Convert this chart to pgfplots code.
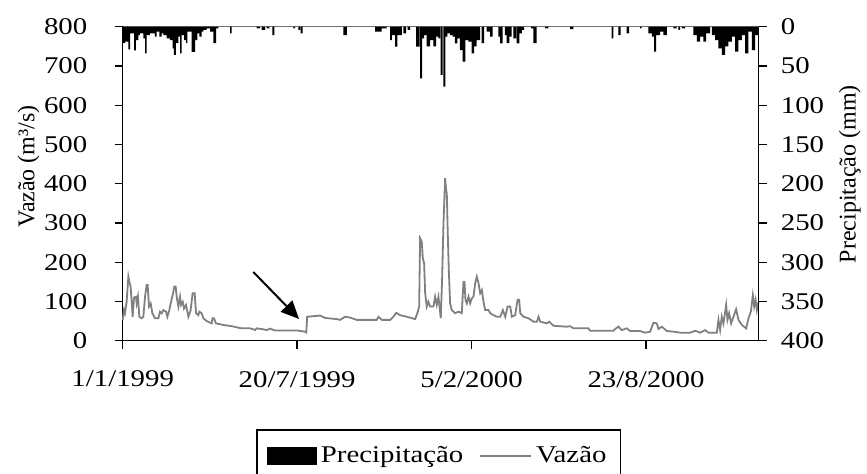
\documentclass[border=0pt]{standalone}
\usepackage{fontspec}
\setmainfont{Liberation Serif}[FakeStretch=1.2]
\newfontfamily\labelfont{Liberation Serif}
\usepackage{pgfplots}
\pgfplotsset{compat=1.18}
\usetikzlibrary{arrows.meta}
\begin{document}
\fontsize{12}{14}\selectfont
\begin{tikzpicture}[font=\fontsize{12}{14}\selectfont]
\begin{axis}[
  scale only axis, width=317.9pt, height=157pt,
  xmin=0, xmax=729, ymin=0, ymax=800,
  axis x line*=bottom, axis y line*=left,
  xtick={0,200,400,600},
  xticklabels={1/1/1999,20/7/1999,5/2/2000,23/8/2000},
  ytick={0,100,...,800},
  tick align=outside, major tick length=4pt,
  tick style={black, line width=0.65pt},
  axis line style={black, line width=0.65pt},
  /pgf/number format/assume math mode=true,
  xticklabel style={yshift=-7pt},
  yticklabel style={xshift=-9.5pt},
  ylabel={\labelfont Vazão (m³/s)},
  ylabel style={at={(axis description cs:0,0.555)}, anchor=center, yshift=47pt},
  clip=false,
]
\addplot[gray, line width=0.9pt] coordinates {
(0,53) (1.5,78) (2.6,70) (4.5,99) (6.5,163) (7.6,150) (9.1,138) (10.7,87) (11.4,61) (13,110) (15.2,112) (16,95) (17.5,112) (19.1,61) (21.7,57) (23.7,61) (25.6,112) (27.5,142) (28.6,142) (30.2,87) (32.1,95) (34,70) (37,57) (40.9,57) (42.8,74) (44.7,70) (46.6,78) (49.7,74) (51.2,61) (53.5,78) (55,95) (57.3,116) (59.2,138) (60.7,138) (61.9,112) (63.8,87) (65.7,112) (66.9,91) (68.8,99) (70.3,82) (72.6,91) (75.3,61) (77.9,78) (80.2,121) (82.5,121) (84.1,70) (86.7,65) (87.9,74) (90.5,70) (92.5,57) (96.3,50) (102,44) (103,57) (104.7,57) (107,44) (115.4,40) (125,37) (136,31.5) (146,31.5) (149.8,29) (151.7,27) (153.6,31.5) (161.3,29) (165.1,27) (168.9,30.7) (174.7,26) (200,26) (209,23) (210.5,21) (211.5,61) (226.3,64) (232,58) (245.4,55) (249.2,53) (254.9,61) (260.7,59) (268.3,53) (291.3,53) (293.2,61) (297,53) (306.6,53) (310.4,61) (313.5,71) (318.1,65) (325.7,61) (335.3,55) (338,71) (339.9,87) (341,261) (342.9,252) (344.1,210) (345.6,197) (346.8,121) (348.6,87) (350.5,99) (352.4,87) (356.3,87) (358.2,112) (360.1,91) (362,112) (364.7,57) (366.2,155) (367.8,299) (369.7,414) (370.8,384) (371.6,375) (372.7,274) (373.9,180) (375.4,95) (377.3,78) (381.2,70) (385,74) (388.8,70) (390.7,150) (391.9,150) (393,104) (394.6,95) (396.5,112) (398.4,95) (400.3,108) (402.2,112) (404.1,146) (406,163) (408,146) (409.9,121) (411.8,129) (413.7,99) (415.6,78) (419.5,78) (421.4,70) (425.2,65) (429,61) (432.9,61) (435.9,78) (438.6,61) (441.3,87) (444.3,87) (446.2,61) (450,65) (452.7,104) (454.6,104) (455.8,70) (459.6,61) (465.3,57) (471,48.5) (474.9,48.5) (476.8,61) (478.7,48.5) (486.2,44) (489.2,48.5) (493.8,38) (509.1,35.7) (512.9,36.9) (516.8,31.5) (534,31.5) (535.9,25.3) (562.6,25.3) (564.6,29.7) (568.4,35.7) (572.2,27) (577.9,31.5) (581.8,24.7) (593.2,24.7) (599,20.4) (604.7,23) (608.6,45.8) (612.4,44) (614.3,29.7) (618.1,35.7) (623.9,24.7) (631.5,23) (639.2,20.4) (650.6,20.4) (656.4,25.3) (662.1,20.4) (667.8,27) (671.7,20.4) (681.2,20.4) (683.1,53) (685,27) (686.9,61) (688.8,44) (691.9,91) (693.4,53) (695.3,70) (697.6,44) (700.3,61) (703.3,80) (706,53) (709.9,40) (714.8,31.5) (717.5,57) (720.2,74) (722.5,116) (724,87) (725.6,104) (727.1,78) (729,99.5)
};
\draw[gray, line width=0.65pt] (rel axis cs:0,1) -- (rel axis cs:1,1);
\draw[line width=1pt, -{Triangle[length=9pt,width=8pt]}] (axis cs:149.8,175) -- (axis cs:202.2,55.3);
\end{axis}
\begin{axis}[
  scale only axis, width=317.9pt, height=157pt,
  xmin=0, xmax=729, ymin=0, ymax=400, y dir=reverse,
  axis y line*=right, axis x line=none,
  ytick={0,50,...,400},
  tick align=outside, major tick length=4pt,
  tick style={black, line width=0.65pt},
  axis line style={black, line width=0.65pt},
  /pgf/number format/assume math mode=true,
  yticklabel style={xshift=3pt},
  ylabel={\labelfont Precipitação (mm)},
  ylabel style={at={(axis description cs:1,0.53)}, anchor=center, yshift=-45.7pt},
  legend columns=2,
  legend style={at={(axis description cs:0.497,-0.2822)}, anchor=north,
    draw=black, line width=0.65pt, inner xsep=5pt, inner ysep=6pt,
    /tikz/every even column/.append style={column sep=6pt}},
  legend cell align=left,
]
\addplot[ybar interval, fill=black, draw=none,
  legend image code/.code={\fill[black] (0pt,-4.4pt) rectangle (25pt,4.4pt);}] coordinates {
(0,21) (2.7,19) (6.5,29) (8.4,8.5) (13,30) (15.2,17) (17.9,10.6) (19.8,8.5) (23.7,14.8) (25.6,34) (27.5,10.6) (31.3,8.5) (37,12.7) (39,6.4) (42,12.7) (44.7,8.5) (46.6,10.6) (50.4,14.8) (54.2,17) (57.3,27.5) (58.8,36) (61.1,21) (63.8,12.7) (65.7,34) (67.6,10.6) (70.3,17) (72.6,21) (74.1,6.4) (79,32) (82.9,17) (85.6,8.5) (87.9,12.7) (90.5,6.4) (92.5,4.2) (96.3,2) (100.1,6.4) (103.9,21) (107,2) (109.6,0) (123.1,8.5) (125,0) (153.6,2) (157.5,0) (159.4,4.2) (163.2,0) (165.1,2) (168.1,0) (171.6,10.6) (173.9,0) (195.7,2) (197.7,0) (201.4,4.2) (203.3,0) (204.1,8.5) (206.4,0) (253,10.6) (257,0) (289.4,6.4) (297,2) (302.7,0) (306.6,17) (308.5,10.6) (312.3,25.5) (315,10.6) (320,0) (321.9,8.5) (325,0) (326.6,4.2) (329.6,0) (336.5,25.5) (340.3,0) (341,65.7) (343.2,14.8) (345.5,10.6) (348.6,25) (352.4,17) (356.2,25) (359.3,12.7) (362,14.8) (363.9,0) (364.6,61.5) (366.9,0) (367.7,76.4) (370,12.7) (372.3,8.5) (375.3,10.6) (378.4,12.7) (381,21.3) (383.7,14.8) (386.7,29.7) (389.8,44.6) (392.8,17) (396.3,19) (400.1,34) (402.8,25) (405.8,17) (409.7,0) (411.6,21) (414.3,0) (417.3,6.4) (421.2,12.7) (424.2,0) (430.7,12.7) (432.6,21.3) (435.7,0) (438.3,10.6) (440.3,21) (443.3,12.7) (446,0) (448,14.8) (451,0) (451.8,21.3) (454.9,8.5) (457.6,4.2) (460.2,0) (468.3,2) (470.9,21) (474.5,0) (484.3,2) (488.1,0) (512.9,3) (516.8,0) (560.7,14.8) (562.6,0) (568.4,10.6) (571,0) (577.9,8.5) (580.6,0) (593.2,2) (595.1,0) (602.8,8.5) (606.6,12.7) (609.3,31.8) (611.6,10.6) (616.2,6.4) (620,10.6) (623.9,0) (631.4,2) (635.2,0) (637.1,4.2) (639,0) (641,2) (644.8,0) (654.4,10.6) (658.2,19) (662,12.7) (665.8,19) (668.9,8.5) (673.5,0) (675.4,10.6) (679.2,17) (683.1,27.5) (686.9,36) (690.7,25) (694.5,19) (698.4,12.7) (702.2,31.8) (706,17) (709.8,10.6) (713.7,34) (717.5,6.4) (721.3,29.7) (725.1,10.6) (729,0)
};
\addlegendentry{Precipitação}
\addlegendimage{legend image code/.code={\draw[gray, line width=0.9pt] (0pt,0pt) -- (25.5pt,0pt);}}
\addlegendentry{Vazão}
\end{axis}
\pgfresetboundingbox
\path[use as bounding box] (-61.35pt,-66.65pt) rectangle (372.15pt,170.35pt);
\end{tikzpicture}
\end{document}
